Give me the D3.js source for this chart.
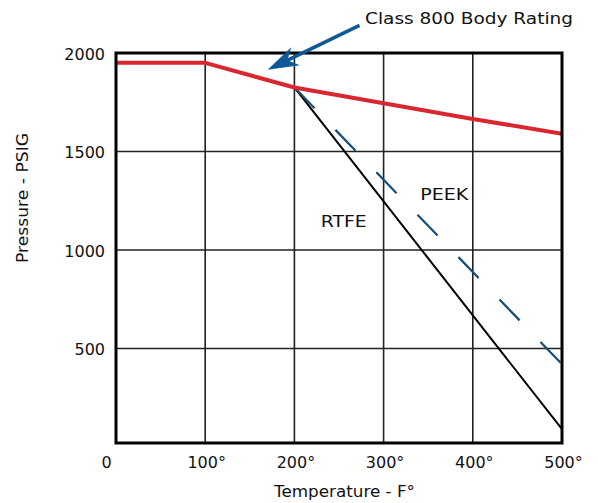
<!DOCTYPE html>
<html>
<head>
<meta charset="utf-8">
<script src="https://cdn.jsdelivr.net/npm/d3@7"></script>
<style>
  html, body { margin: 0; padding: 0; background: #fff; }
  svg { display: block; }
  text { font-family: "DejaVu Sans", sans-serif; fill: #111; }
</style>
</head>
<body>
<svg id="chart" width="598" height="503"></svg>
<script>
// ---- data ----
const temps = [0, 100, 200, 300, 400, 500];
const bodyRating = [1950, 1950, 1825, 1745, 1665, 1590];
const rtfeTemps = [200, 500];
const rtfeValues = [1825, 90];
const peekTemps = [200, 500];
const peekValues = [1825, 420];
const xTicks = [0, 100, 200, 300, 400, 500];
const xTickLabels = ["0", "100°", "200°", "300°", "400°", "500°"];
const yTicks = [500, 1000, 1500, 2000];
const yTickLabels = ["500", "1000", "1500", "2000"];
// annotation arrow, data coordinates (tail, tip)
const arrowTail = [273, 2140];
const arrowTip = [170, 1915];
const seriesLabels = [
  { text: "RTFE", t: 229.5, p: 1118, w: 46 },
  { text: "PEEK", t: 341, p: 1254, w: 48 }
];

// ---- layout ----
const pLeft = 116, pRight = 562, pTop = 53, pBottom = 443;
const x = d3.scaleLinear().domain([0, 500]).range([pLeft, pRight]);
const y = d3.scaleLinear().domain([20, 2000]).range([pBottom, pTop]);

const svg = d3.select("#chart");
svg.append("rect").attr("width", 598).attr("height", 503).attr("fill", "#fff");

// grid
const grid = svg.append("g");
grid.selectAll(".vg").data(xTicks.filter(d => d > 0 && d < 500)).enter()
  .append("line")
  .attr("x1", d => x(d)).attr("x2", d => x(d))
  .attr("y1", pTop).attr("y2", pBottom)
  .attr("stroke", "#222").attr("stroke-width", 1.6);
grid.selectAll(".hg").data(yTicks.filter(d => d < 2000)).enter()
  .append("line")
  .attr("x1", pLeft).attr("x2", pRight)
  .attr("y1", d => y(d)).attr("y2", d => y(d))
  .attr("stroke", "#222").attr("stroke-width", 1.6);

// axes labels (tick text)
const xAxis = d3.axisBottom(x).tickValues(xTicks)
  .tickFormat((d, i) => xTickLabels[i]).tickSize(0).tickPadding(0);
const gx = svg.append("g").attr("transform", `translate(0,${pBottom})`).call(xAxis);
gx.select(".domain").remove();
gx.selectAll("text")
  .attr("y", 25).attr("dy", 0)
  .attr("dx", (d, i) => i === 0 ? -10 : 1)
  .style("font-family", '"DejaVu Sans", sans-serif')
  .style("font-size", "16px").attr("fill", "#111");

const yAxis = d3.axisLeft(y).tickValues(yTicks)
  .tickFormat((d, i) => yTickLabels[i]).tickSize(0).tickPadding(0);
const gy = svg.append("g").attr("transform", `translate(${pLeft},0)`).call(yAxis);
gy.select(".domain").remove();
gy.selectAll("text")
  .attr("x", -11).attr("dy", "0.4em")
  .style("font-family", '"DejaVu Sans", sans-serif')
  .style("font-size", "16px").attr("fill", "#111");

// series
const line = d3.line().x(d => x(d[0])).y(d => y(d[1]));
svg.append("path")
  .datum(rtfeTemps.map((t, i) => [t, rtfeValues[i]]))
  .attr("d", line).attr("fill", "none")
  .attr("stroke", "#000").attr("stroke-width", 2);
svg.append("path")
  .datum(peekTemps.map((t, i) => [t, peekValues[i]]))
  .attr("d", line).attr("fill", "none")
  .attr("stroke", "#134d78").attr("stroke-width", 2.2)
  .attr("stroke-dasharray", "29,30");
svg.append("path")
  .datum(temps.map((t, i) => [t, bodyRating[i]]))
  .attr("d", line).attr("fill", "none")
  .attr("stroke", "#d9262f").attr("stroke-width", 4)
  .attr("stroke-linejoin", "round");

// frame
svg.append("rect")
  .attr("x", pLeft).attr("y", pTop)
  .attr("width", pRight - pLeft).attr("height", pBottom - pTop)
  .attr("fill", "none").attr("stroke", "#000").attr("stroke-width", 3);

// series labels
svg.selectAll(".sl").data(seriesLabels).enter()
  .append("text")
  .attr("x", d => x(d.t)).attr("y", d => y(d.p))
  .attr("text-anchor", "start")
  .attr("textLength", d => d.w).attr("lengthAdjust", "spacingAndGlyphs")
  .style("font-size", "16px")
  .text(d => d.text);

// annotation arrow
const tx = x(arrowTail[0]), ty = y(arrowTail[1]);
const hx = x(arrowTip[0]), hy = y(arrowTip[1]);
const len = Math.hypot(hx - tx, hy - ty);
const ux = (hx - tx) / len, uy = (hy - ty) / len;
const px = -uy, py = ux;
const headLen = 31, headW = 10, notch = 22;
const bx = hx - ux * headLen, by = hy - uy * headLen;
const nx = hx - ux * notch, ny = hy - uy * notch;
svg.append("line")
  .attr("x1", tx).attr("y1", ty).attr("x2", nx + ux * 2).attr("y2", ny + uy * 2)
  .attr("stroke", "#0f5a96").attr("stroke-width", 3.5);
svg.append("path")
  .attr("d", `M${hx},${hy}L${bx + px * headW},${by + py * headW}L${nx},${ny}L${bx - px * headW},${by - py * headW}Z`)
  .attr("fill", "#0f5a96");
svg.append("text")
  .attr("x", 365).attr("y", 24)
  .attr("textLength", 208).attr("lengthAdjust", "spacingAndGlyphs")
  .style("font-size", "16px")
  .text("Class 800 Body Rating");

// axis titles
svg.append("text")
  .attr("x", 344.5).attr("y", 497)
  .attr("text-anchor", "middle")
  .attr("textLength", 141).attr("lengthAdjust", "spacingAndGlyphs")
  .style("font-size", "15.5px")
  .text("Temperature - F°");
svg.append("text")
  .attr("transform", "translate(28,198) rotate(-90)")
  .attr("text-anchor", "middle")
  .attr("textLength", 130).attr("lengthAdjust", "spacingAndGlyphs")
  .style("font-size", "15.5px")
  .text("Pressure - PSIG");
</script>
</body>
</html>
